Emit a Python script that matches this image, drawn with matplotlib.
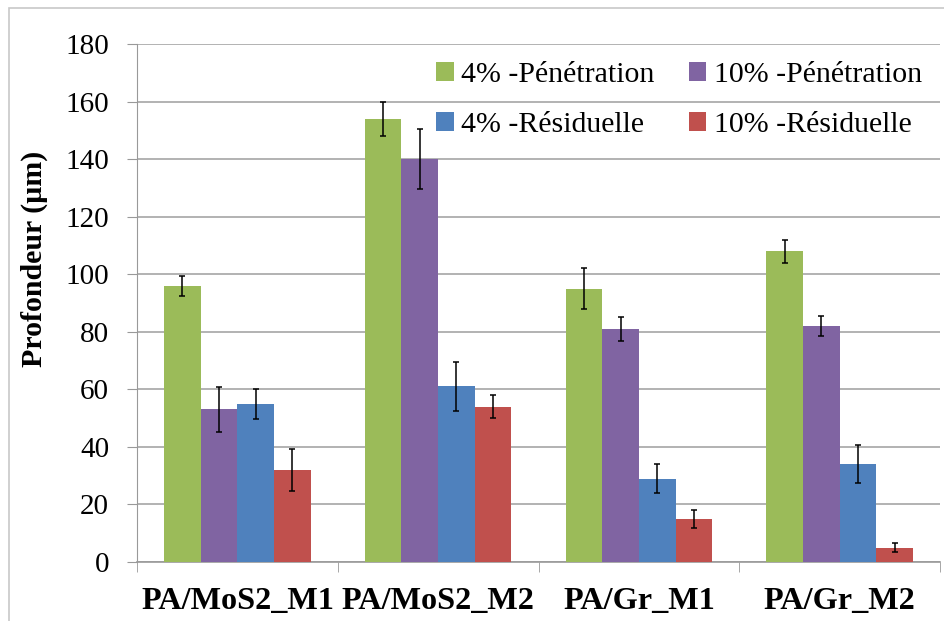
import numpy as np
import matplotlib
matplotlib.use("Agg")
import matplotlib.pyplot as plt
from matplotlib.patches import Rectangle

plt.rcParams["font.family"] = ["Liberation Serif", "DejaVu Serif"]

groups = ["PA/MoS2_M1", "PA/MoS2_M2", "PA/Gr_M1", "PA/Gr_M2"]
series = ["4% -Pénétration", "10% -Pénétration", "4% -Résiduelle", "10% -Résiduelle"]
pen4 = [96, 154, 95, 108]
pen10 = [53, 140, 81, 82]
res4 = [55, 61, 29, 34]
res10 = [32, 54, 15, 5]
err_pen4 = [3.4, 6, 7, 4]
err_pen10 = [7.7, 10.3, 4.2, 3.4]
err_res4 = [5.2, 8.6, 5.1, 6.6]
err_res10 = [7.2, 4.1, 3.2, 1.5]
colors = ["#9BBB59", "#8064A2", "#4F81BD", "#C0504D"]

values = [pen4, pen10, res4, res10]
errors = [err_pen4, err_pen10, err_res4, err_res10]

fig = plt.figure(figsize=(9.45, 6.21), dpi=100)
ax = fig.add_axes([137/945, 59/621, 803/945, 518/621])

x = np.arange(len(groups))
w = 0.1825
bars = []
for i in range(4):
    b = ax.bar(x + (i - 1.5) * w, values[i], w, color=colors[i], label=series[i],
               yerr=errors[i], capsize=2.5,
               error_kw=dict(ecolor="black", elinewidth=1.1, capthick=1.1),
               zorder=3)
    bars.append(b)

ax.set_xlim(-0.5, 3.5)
ax.set_ylim(0, 180)
ax.set_yticks(range(0, 181, 20))
ax.set_xticks(x)
ax.set_xticklabels(groups, fontsize=23.2, fontweight="bold")
ax.set_xticks(np.arange(-0.5, 4, 1), minor=True)
ax.tick_params(axis="x", which="major", length=0, pad=18)
ax.tick_params(axis="x", which="minor", length=7, color="#999999", direction="out")
ax.tick_params(axis="y", labelsize=21, length=7, color="#999999", pad=13)
ax.grid(axis="y", color="#a6a6a6", linewidth=1.2, zorder=0)
ax.set_axisbelow(True)
for s in ["top", "right"]:
    ax.spines[s].set_visible(False)
ax.spines["left"].set_color("#999999")
ax.spines["bottom"].set_color("#999999")
ax.spines["bottom"].set_linewidth(1.2)

ax.set_ylabel("Profondeur (µm)", fontsize=21.5, fontweight="bold")
ax.yaxis.set_label_coords(-0.1105, 0.585)

# row-wise order: matplotlib fills legend columns first
order = [0, 2, 1, 3]
ax.legend([bars[i] for i in order], [series[i] for i in order],
          ncol=2, loc="upper right", bbox_to_anchor=(1.0, 1.0), frameon=False,
          fontsize=21.5, handlelength=0.6, handleheight=0.6, handletextpad=0.25,
          columnspacing=1.13, labelspacing=0.8, borderaxespad=0.2)

fig.patches.append(Rectangle((9/945, -0.1), 1.2, (621 - 8)/621 + 0.1,
                             transform=fig.transFigure, fill=False,
                             edgecolor="#c8c8c8", linewidth=1.2))

fig.savefig("out.png", dpi=100)
